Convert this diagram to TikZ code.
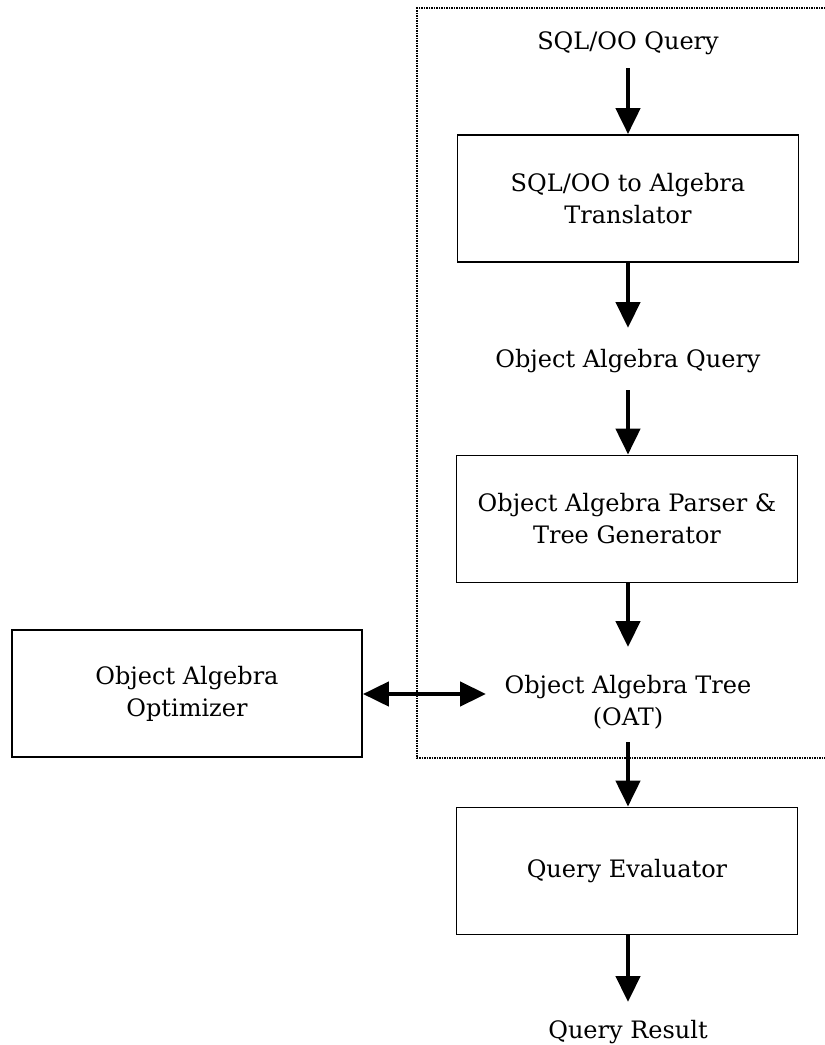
\documentclass[tikz,border=0pt]{standalone}
\usepackage{fontspec}
\setmainfont{DejaVu Serif}
\usetikzlibrary{arrows.meta}
\begin{document}
\begin{tikzpicture}[x=1pt,y=-1pt,
  txt/.style={font=\fontsize{24}{32}\selectfont, align=center, inner sep=0pt},
  blk/.style={draw, line width=1.8pt, minimum width=341pt, minimum height=127pt, align=center, font=\fontsize{24}{32}\selectfont},
  flow/.style={line width=4.5pt, -{Triangle[width=24pt,length=26pt]}},
  both/.style={line width=4.5pt, {Triangle[width=24pt,length=26pt]}-{Triangle[width=24pt,length=26pt]}},
  frame/.style={densely dotted, line width=1.5pt}]
\useasboundingbox (0,0) rectangle (825,1045);
\draw[frame] (825,8) -- (417,8) -- (417,758) -- (825,758);
\node[txt] (sql) at (628,43) {SQL/OO Query};
\node[blk] (tr) at (628,198.5) {SQL/OO to Algebra\\Translator};
\node[txt] (oaq) at (628,361) {Object Algebra Query};
\node[blk] (pg) at (627,519) {Object Algebra Parser \&\\Tree Generator};
\node[txt] (oat) at (628,702) {Object Algebra Tree\\(OAT)};
\node[blk, minimum width=350pt] (opt) at (187,693.5) {Object Algebra\\Optimizer};
\node[blk] (ev) at (627,871) {Query Evaluator};
\node[txt] (res) at (628,1032) {Query Result};
\coordinate (oatL) at (486,694);
\draw[flow] (628,68) -- (tr.north -| 628,0);
\draw[flow] (tr.south -| 628,0) -- (628,328);
\draw[flow] (628,390) -- (pg.north -| 628,0);
\draw[flow] (pg.south -| 628,0) -- (628,647);
\draw[flow] (628,742) -- (ev.north -| 628,0);
\draw[flow] (ev.south -| 628,0) -- (628,1002);
\draw[both] (opt.east |- oatL) -- (oatL);
\end{tikzpicture}
\end{document}
